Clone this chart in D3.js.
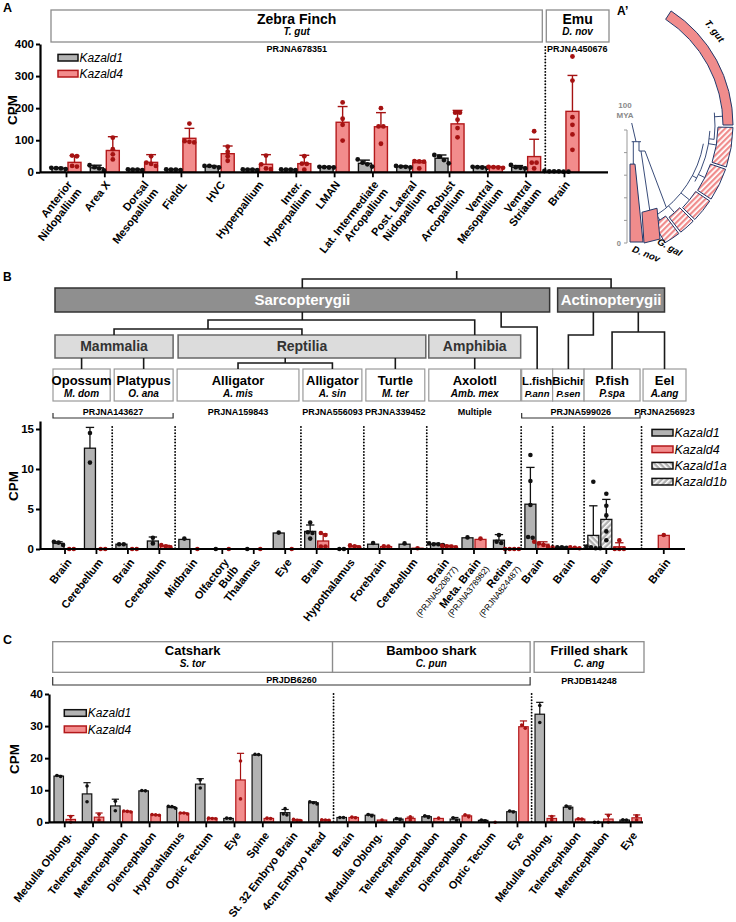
<!DOCTYPE html>
<html><head><meta charset="utf-8">
<script src="https://cdn.jsdelivr.net/npm/d3@7"></script>
<style>
body{margin:0;background:#fff;}
svg text{font-family:"Liberation Sans",Arial,Helvetica,sans-serif;}
</style></head><body>
<svg id="chart" width="736" height="922"></svg>
<script>
// ================= DATA =================
// ---- Panel A ----
const aLabels = ["Anterior\nNidopallium","Area X","Dorsal\nMesopallium","FieldL","HVC","Hyperpallium","Inter.\nHyperpallium","LMAN","Lat. Intermediate\nArcopallium","Post. Lateral\nNidopallium","Robust\nArcopallium","Ventral\nMesopallium","Ventral\nStriatum","Brain"];
const aSpeciesOf = [0,0,0,0,0,0,0,0,0,0,0,0,0,1];
const aSpeciesNames = ["Zebra Finch","Emu"];
const aSpeciesSci = ["T. gut","D. nov"];
const aProjects = ["PRJNA678351","PRJNA450676"];
const aYTicks = [0,100,200,300,400];
const aK1Mean = [12,14,8,8,18,8,8,16,28,17,44,15,16,3];
const aK1Sd   = [3,8,2,2,3,2,2,2,10,3,10,3,5,1];
const aK1Pts  = [[10,13,14,12],[22,16,6,12],[7,8,9,8],[7,8,9,8],[20,20,17,15],[7,8,9,8],[7,8,9,8],[15,16,17,15],[40,30,25,18],[17,18,15,20],[54,49,38,28],[15,17,16,14],[23,12,16,14],[2,3,3,4,3,2]];
const aK4Mean = [31,68,31,106,58,25,27,156,142,30,151,16,49,190];
const aK4Sd   = [21,43,24,31,24,30,26,49,44,6,42,2,54,112];
const aK4Pts  = [[52,50,20,18],[108,72,56,40],[50,30,26,20],[152,97,93,95],[80,64,50,36],[52,25,12,10],[50,27,26,8],[218,167,148,99],[200,143,143,89],[35,34,33,12],[186,186,164,138,109],[17,16,15,14],[128,30,30,12],[361,286,172,148,118,70]];
// ---- Panel A' ----
const apBarTips = ["D. nov","G. gal"];
const apBarValues = [190, 75];
// ---- Panel B ----
const bLabels = ["Brain","Cerebellum","Brain","Cerebellum","Midbrain","Olfactory\nBulb","Thalamus","Eye","Brain","Hypothalamus","Forebrain","Cerebellum","Brain\n(PRJNA520877)","Meta. Brain\n(PRJNA378982)","Retina\n(PRJNA824487)","Brain","Brain","Brain","Brain"];
const bSpeciesOf = [0,0,1,1,2,2,2,2,3,3,4,4,5,5,5,6,7,8,9];
const bSlots = [["k1","k4"],["k1","k4"],["k1","k4"],["k1","k4"],["k1","k4"],["k1","k4"],["k1","k4"],["k1","k4"],["k1","k4"],["k1","k4"],["k1","k4"],["k1","k4"],["k1","k4"],["k1","k4"],["k1","k4"],["k1","k4"],["k1","k4"],["k1a","k1b","k4"],[null,null,"k4"]];
const bSpeciesNames = ["Opossum","Platypus","Alligator","Alligator","Turtle","Axolotl","L.fish","Bichir","P.fish","Eel"];
const bSpeciesSci = ["M. dom","O. ana","A. mis","A. sin","M. ter","Amb. mex","P.ann","P.sen","P.spa","A.ang"];
const bClasses = ["Mammalia","Reptilia","Amphibia"];
const bSuperClasses = ["Sarcopterygii","Actinopterygii"];
const bProjNames = ["PRJNA143627","PRJNA159843","PRJNA556093","PRJNA339452","Multiple","PRJNA599026","PRJNA256923"];
const bProjFrom = [0,2,3,4,5,6,9];
const bProjTo   = [1,2,3,4,5,8,9];
const bYTicks = [0,5,10,15];
const bK1Mean = [0.7,12.6,0.6,1.0,1.2,0,0,2.0,2.2,0,0.6,0.6,0.6,1.4,1.1,5.6,0.2,null,null];
const bK1Sd   = [0.2,2.6,0,0.5,0,0,0,0,0.8,0,0,0,0.1,0,0.7,4.6,0.05,null,null];
const bK1Pts  = [[0.5,0.8,0.9],[14.5,10.8],[0.6,0.6],[1.4,0.7],[1.3],[0],[0],[2.05],[3.3,2.1,2.0,1.3],[0,0],[0.75],[0.7],[0.7,0.6,0.5,0.6],[1.45],[1.75,0.9,0.75],[11.75,8.5,5.5,1.5,1.4],[0.2,0.2,0.15],null,null];
const bK4Mean = [0,0,0,0.35,0,0,0,0,1.0,0.3,0.3,0.1,0.35,1.2,0,0.6,0.15,0.28,1.7];
const bK4Sd   = [0,0,0,0.1,0,0,0,0,0.9,0.1,0,0,0.1,0,0,0.3,0,0.5,0];
const bK4Pts  = [[0,0],[0,0],[0,0],[0.2,0.35,0.5],[0],[0],[0],[0],[2.0,1.75,0.3,0.3],[0.2,0.35,0.45],[0.35,0.3],[0.1],[0.4,0.3,0.2,0.35],[1.3],[0,0,0,0],[0.9,0.7,0.5,0.3,0.2],[0.15,0.2,0.1],[1.1,0,0,0],[1.75]];
const bK1aMean = [null,null,null,null,null,null,null,null,null,null,null,null,null,null,null,null,null,1.7,null];
const bK1aSd   = [null,null,null,null,null,null,null,null,null,null,null,null,null,null,null,null,null,3.7,null];
const bK1aPts  = [null,null,null,null,null,null,null,null,null,null,null,null,null,null,null,null,null,[8.4,0.3,0.2,0.1,0.1],null];
const bK1bMean = [null,null,null,null,null,null,null,null,null,null,null,null,null,null,null,null,null,3.7,null];
const bK1bSd   = [null,null,null,null,null,null,null,null,null,null,null,null,null,null,null,null,null,2.5,null];
const bK1bPts  = [null,null,null,null,null,null,null,null,null,null,null,null,null,null,null,null,null,[6.9,5.4,4.2,2.2,1.1],null];
// ---- Panel C ----
const cLabels = ["Medulla Oblong.","Telencephalon","Metencephalon","Diencephalon","Hypotahlamus","Optic Tectum","Eye","Spine","St. 32 Embryo Brain","4cm Embryo Head","Brain","Medulla Oblong.","Telencephalon","Metencephalon","Diencephalon","Optic Tectum","Eye","Medulla Oblong.","Telencephalon","Metencephalon","Eye"];
const cSpeciesOf = [0,0,0,0,0,0,0,0,0,0,1,1,1,1,1,1,1,2,2,2,2];
const cSpeciesNames = ["Catshark","Bamboo shark","Frilled shark"];
const cSpeciesSci = ["S. tor","C. pun","C. ang"];
const cProjNames = ["PRJDB6260","PRJDB14248"];
const cProjFrom = [0,2];
const cProjTo = [1,2];
const cYTicks = [0,10,20,30,40];
const cK1Mean = [14.4,8.85,5.1,9.8,4.6,11.9,1.2,21.0,3.0,6.1,1.5,2.2,1.0,1.75,1.0,0.6,3.3,33.7,4.7,0,0.7];
const cK1Sd   = [0.2,3.5,2.1,0.1,0.3,1.7,0.1,0.1,1.0,0.3,0,0.3,0.3,0.3,0.5,0.1,0.2,3.7,0.4,0,0.1];
const cK1Pts  = [[14.3,14.6],[11.3,6.4],[6.6,3.6],[9.8,9.9],[4.4,4.9,5.0],[13.2,10.7],[1.2,1.3],[21.1,21.2],[4.25,2.6,2.3],[6.4,5.7,6.1],[1.5,1.5],[2.4,2.0],[1.2,0.8],[2.0,1.5],[1.4,0.6],[0.7,0.5],[3.2,3.5],[36.4,31.1],[5.1,4.4],[0,0],[0.7,0.8]];
const cK4Mean = [0.9,1.6,3.35,2.3,2.8,1.2,13.2,1.2,0.7,0.7,1.5,0.7,1.2,1.2,2.0,0,29.8,1.2,1.0,1.0,1.4];
const cK4Sd   = [1.2,1.3,0.15,0.1,0.15,0.1,8.3,0.05,0.2,0.1,0.1,0,0.4,0,0.3,0,1.8,0.8,0.1,1.5,0.9];
const cK4Pts  = [[1.8,0.1],[2.5,0.7],[3.2,3.5,3.4],[2.2,2.3,2.4],[2.6,2.9,2.9],[1.1,1.3,1.2],[19.1,7.3],[1.2,1.3],[0.9,0.5,0.6],[0.7,0.8,0.6],[1.4,1.6],[0.7],[1.75,0.7],[1.3],[2.3,1.7],[0],[29.3,30.3],[0.7,1.8],[1.0,1.1],[2.1,0.1],[2.0,0.7]];
const seriesNames = {k1:"Kazald1",k4:"Kazald4",k1a:"Kazald1a",k1b:"Kazald1b"};

// ================= DRAWING =================
const svg = d3.select('#chart');
const defs = svg.append('defs');
function hatch(id,bg,fg,angle,size,stripe){
  const p=defs.append('pattern').attr('id',id).attr('patternUnits','userSpaceOnUse')
    .attr('width',size).attr('height',size).attr('patternTransform',`rotate(${angle})`);
  p.append('rect').attr('width',size).attr('height',size).attr('fill',bg);
  p.append('rect').attr('width',stripe).attr('height',size).attr('fill',fg);
}
hatch('h1a','#b0b0b0','#ffffff',-45,4,1.6);
hatch('h1b','#b0b0b0','#ffffff',45,4,1.6);
hatch('hpink','#ffffff','#f08c8c',45,4,2.2);

const ST = {
  k1:{fill:'#b3b3b3',stroke:'#111',dot:'#111'},
  k4:{fill:'#f28c8c',stroke:'#b3191b',dot:'#a51212'},
  k1a:{fill:'url(#h1a)',stroke:'#111',dot:'#111'},
  k1b:{fill:'url(#h1b)',stroke:'#111',dot:'#111'}
};

function buildGroups(labels,speciesOf,slots,series){
  return labels.map((lab,i)=>({label:lab,sp:speciesOf[i],
    bars:slots[i].map(s=>s?{s,m:series[s].mean[i],sd:series[s].sd[i],pts:series[s].pts[i]}:null)}));
}

function txt(x,y,str,o={}){
  return svg.append('text').attr('x',x).attr('y',y).text(str)
    .attr('text-anchor',o.anchor||'middle').attr('font-size',o.fs||10)
    .attr('font-weight',o.fw||'bold').attr('font-style',o.it?'italic':'normal')
    .attr('fill',o.fill||'#000');
}

function drawPanel(o){
  const {groups,y,x0,unit,gap,bw,axisX0,axisX1,r,sw} = o;
  const xs=d3.scaleLinear().domain([0,1]).range([x0,x0+unit]);
  const bwPx=xs(bw)-xs(0);
  let cum=0;
  groups.forEach(gr=>{
    gr.start=cum; cum+=gr.bars.length+gap;
    gr.bars.forEach((b,k)=>{ if(b){ b.left=xs(gr.start+k); b.cx=b.left+bwPx/2; } });
    const pres=gr.bars.filter(Boolean);
    gr.l=pres[0].left; gr.r=pres[pres.length-1].left+bwPx; gr.cx=(gr.l+gr.r)/2;
  });
  const y0=y(0);
  const g=svg.append('g');
  const all=groups.flatMap(gr=>gr.bars.filter(Boolean));
  g.selectAll('rect').data(all.filter(b=>b.m>0)).join('rect')
    .attr('x',b=>b.left).attr('y',b=>y(b.m)).attr('width',bwPx).attr('height',b=>y0-y(b.m))
    .attr('fill',b=>ST[b.s].fill).attr('stroke',b=>ST[b.s].stroke).attr('stroke-width',sw);
  all.filter(b=>b.sd>0).forEach(b=>{
    const yt=y(b.m+b.sd);
    g.append('line').attr('x1',b.cx).attr('x2',b.cx).attr('y1',y(b.m)).attr('y2',yt)
      .attr('stroke',ST[b.s].dot).attr('stroke-width',sw);
    g.append('line').attr('x1',b.cx-bwPx*0.38).attr('x2',b.cx+bwPx*0.38).attr('y1',yt).attr('y2',yt)
      .attr('stroke',ST[b.s].dot).attr('stroke-width',sw);
  });
  all.forEach(b=>{
    const py=b.pts.map(v=>y(v)).sort((a,c)=>a-c);
    const clusters=[]; let cur=[py[0]];
    for(let j=1;j<py.length;j++){ if(py[j]-cur[cur.length-1]<r*1.8) cur.push(py[j]); else {clusters.push(cur);cur=[py[j]];} }
    clusters.push(cur);
    clusters.forEach(c=>c.forEach((yy,k)=>{
      g.append('circle').attr('cx',b.cx+(k-(c.length-1)/2)*r*2).attr('cy',yy).attr('r',r).attr('fill',ST[b.s].dot);
    }));
  });
  g.append('line').attr('x1',axisX0).attr('x2',axisX1).attr('y1',y0).attr('y2',y0).attr('stroke','#000').attr('stroke-width',2.2);
  groups.forEach(gr=>g.append('line').attr('x1',gr.cx).attr('x2',gr.cx).attr('y1',y0).attr('y2',y0+5).attr('stroke','#000').attr('stroke-width',1.8));
  const ax=d3.axisLeft(y).tickValues(o.ticks).tickSize(4).tickPadding(2).tickSizeOuter(0);
  const ga=svg.append('g').attr('transform',`translate(${axisX0},0)`).call(ax)
    .attr('font-family','"Liberation Sans",Arial,sans-serif').attr('font-size',11.5).attr('font-weight','bold');
  ga.select('.domain').attr('stroke','#000').attr('stroke-width',2.2);
  ga.selectAll('.tick line').attr('stroke','#000').attr('stroke-width',2);
  ga.selectAll('.tick text').attr('fill','#000');
  groups.forEach(gr=>{
    const t=svg.append('text').attr('transform',`translate(${gr.cx+o.lx},${y0+o.ly}) rotate(-52)`)
      .attr('text-anchor','end').attr('font-size',o.lfs).attr('font-weight','bold').attr('font-style',o.lit?'italic':'normal');
    gr.label.split('\n').forEach((ln,i)=>{
      const sm=ln.startsWith('(');
      t.append('tspan').attr('x',0).attr('dy',i===0?'0.35em':(sm?11:o.lfs*1.1)).text(ln)
        .attr('font-size',sm?8.5:null).attr('font-weight',sm?'normal':null);
    });
  });
  svg.append('text').attr('transform',`translate(${o.cpmX},${o.cpmY}) rotate(-90)`).attr('text-anchor','middle')
    .attr('font-size',13.5).attr('font-weight','bold').text('CPM');
  return groups;
}

function speciesExtents(groups,n){
  const ext=d3.range(n).map(s=>{const gs=groups.filter(g=>g.sp===s);return {l:d3.min(gs,g=>g.l),r:d3.max(gs,g=>g.r)};});
  const seps=d3.range(n-1).map(s=>(ext[s].r+ext[s+1].l)/2);
  return {ext,seps};
}
function dotted(x,y1,y2){
  svg.append('line').attr('x1',x).attr('x2',x).attr('y1',y1).attr('y2',y2)
    .attr('stroke','#000').attr('stroke-width',1.9).attr('stroke-dasharray','0.01,3.1').attr('stroke-linecap','round');
}
function box(x0,x1,y0,y1,fill,stroke,sw){
  svg.append('rect').attr('x',x0).attr('y',y0).attr('width',x1-x0).attr('height',y1-y0)
    .attr('fill',fill).attr('stroke',stroke).attr('stroke-width',sw);
}
function legend(x,ys,keys,fs,w){
  keys.forEach((k,i)=>{
    svg.append('rect').attr('x',x).attr('y',ys[i]-3.3).attr('width',w).attr('height',6.6)
      .attr('fill',ST[k].fill).attr('stroke',ST[k].stroke).attr('stroke-width',1.5);
    txt(x+w+1.5,ys[i]+4.3,seriesNames[k],{anchor:'start',fs,fw:'normal',it:true});
  });
}
function polyline(pts,stroke,sw){
  svg.append('path').attr('d',d3.line()(pts)).attr('fill','none').attr('stroke',stroke).attr('stroke-width',sw);
}

// ---------- Panel A ----------
const aGroups=buildGroups(aLabels,aSpeciesOf,aLabels.map(()=>["k1","k4"]),
  {k1:{mean:aK1Mean,sd:aK1Sd,pts:aK1Pts},k4:{mean:aK4Mean,sd:aK4Sd,pts:aK4Pts}});
const aY=d3.scaleLinear().domain([0,400]).range([172.3,44]);
drawPanel({groups:aGroups,y:aY,x0:52,unit:16,gap:0.394,bw:0.8125,axisX0:40,axisX1:608,r:2.4,sw:1.4,
  ticks:aYTicks,lx:3,ly:10,lfs:11,lit:false,cpmX:16.5,cpmY:110});
{
  const {ext,seps}=speciesExtents(aGroups,2);
  dotted(seps[0],47,172);
  const bx=[[ext[0].l-1,seps[0]-3],[seps[0]+1,609]];
  bx.forEach((b,i)=>{
    box(b[0],b[1],10,42,'#fff','#8c8c8c',1.3);
    const c=(b[0]+b[1])/2;
    txt(c,23.5,aSpeciesNames[i],{fs:14});
    txt(c,35,aSpeciesSci[i],{fs:10,it:true});
  });
  txt((bx[0][0]+bx[0][1])/2,51.5,aProjects[0],{fs:9});
  txt(seps[0]+32,51.5,aProjects[1],{fs:9});
}
legend(58,[57.7,73.7],["k1","k4"],12,20);
txt(3,12,'A',{anchor:'start',fs:12.5});

// ---------- Panel A' ----------
(function(){
  const cx=597,cy=125, navy='#22386a';
  const g=svg.append('g').attr('transform',`translate(${cx},${cy})`);
  const rad=d=>d*Math.PI/180;
  const arc=d3.arc();
  const pol=(a,r)=>[r*Math.sin(rad(a)),-r*Math.cos(rad(a))];
  const tp=d3.path();
  const arcL=(r,a0,a1)=>{const p=pol(a0,r);tp.moveTo(p[0],p[1]);tp.arc(0,0,r,rad(a0)-Math.PI/2,rad(a1)-Math.PI/2,a1<a0);};
  const seg=(a,b)=>{tp.moveTo(a[0],a[1]);tp.lineTo(b[0],b[1]);};
  seg([34.7,-2],[39,16.7]); seg([34.7,16.7],[44,16.7]);
  seg([36.3,16.7],[36.3,40]); seg([42,16.7],[42,26]); seg([42,26],[48,26]);
  seg([44,26],[53,87]); seg([48,26],pol(140,108));
  arcL(108,147,100); arcL(113,120,93); arcL(118,97,84);
  [[146.5,108,114],[138.5,108,117],[129,108,119],[116,113,120],[99.5,113,121],[86,118,126],[118,108,113],[97,113,118]]
    .forEach(([a,r0,r1])=>seg(pol(a,r0),pol(a,r1)));
  g.append('path').attr('d',tp.toString()).attr('fill','none').attr('stroke',navy).attr('stroke-width',0.9);
  g.append('path').attr('d',arc({innerRadius:126,outerRadius:136,startAngle:rad(33),endAngle:rad(90)}))
    .attr('fill','#f08c8c').attr('stroke',navy).attr('stroke-width',1);
  [[91,108,121],[109,123,120],[124,134,119],[135,142,117],[143,150,114]].forEach(([a0,a1,ri])=>{
    g.append('path').attr('d',arc({innerRadius:ri,outerRadius:136,startAngle:rad(a0),endAngle:rad(a1)}))
      .attr('fill','url(#hpink)').attr('stroke',navy).attr('stroke-width',1);
  });
  const len=d3.scaleLinear().domain([0,200]).range([0,82]);
  const base=117;
  const dl=len(apBarValues[0]);
  g.append('path').attr('d',d3.line()([[33,base],[33,base-dl],[38,base-dl],[46,base]])+'Z')
    .attr('fill','#f08c8c').attr('stroke',navy).attr('stroke-width',1);
  const gl=len(apBarValues[1]);
  g.append('path').attr('d',d3.line()([[47,base+1],[45,base+1-gl],[60,base-3-gl],[63,base-3]])+'Z')
    .attr('fill','#f08c8c').attr('stroke',navy).attr('stroke-width',1);
  const ms=d3.scaleLinear().domain([0,100]).range([243,130]);
  const sa=svg.append('g');
  sa.append('line').attr('x1',627).attr('x2',627).attr('y1',ms(0)).attr('y2',ms(100)).attr('stroke','#999').attr('stroke-width',1);
  [0,20,40,60,80,100].forEach(v=>sa.append('line').attr('x1',624).attr('x2',627).attr('y1',ms(v)).attr('y2',ms(v)).attr('stroke','#999'));
  txt(621,ms(0)+3,'0',{fs:7.5,fill:'#8a8a8a',anchor:'end'});
  txt(625,108,'100',{fs:8,fill:'#8a8a8a'});
  txt(625,118,'MYA',{fs:8,fill:'#8a8a8a'});
  svg.append('text').attr('transform','translate(712,33) rotate(52)').attr('text-anchor','middle')
    .attr('font-size',9.5).attr('font-weight','bold').attr('font-style','italic').text('T. gut');
  svg.append('text').attr('transform','translate(668,250) rotate(30)').attr('text-anchor','middle')
    .attr('font-size',9.5).attr('font-weight','bold').attr('font-style','italic').text(apBarTips[1]);
  svg.append('text').attr('transform','translate(645,257) rotate(22)').attr('text-anchor','middle')
    .attr('font-size',9.5).attr('font-weight','bold').attr('font-style','italic').text(apBarTips[0]);
  txt(617,15,'A’',{anchor:'start',fs:12});
})();

// ---------- Panel B ----------
const bSeries={k1:{mean:bK1Mean,sd:bK1Sd,pts:bK1Pts},k4:{mean:bK4Mean,sd:bK4Sd,pts:bK4Pts},
  k1a:{mean:bK1aMean,sd:bK1aSd,pts:bK1aPts},k1b:{mean:bK1bMean,sd:bK1bSd,pts:bK1bPts}};
const bGroups=buildGroups(bLabels,bSpeciesOf,bSlots,bSeries);
const bY=d3.scaleLinear().domain([0,16]).range([549,421]);
drawPanel({groups:bGroups,y:bY,x0:53,unit:13,gap:0.42,bw:0.846,axisX0:40,axisX1:685,r:2.3,sw:1.3,
  ticks:bYTicks,lx:4,ly:11,lfs:11,lit:false,cpmX:18,cpmY:486});
{
  const {ext,seps}=speciesExtents(bGroups,10);
  seps.forEach(s=>dotted(s,427,549));
  const half=[2,2,2,2,2,0.5,0,0,1.5];
  const bb=ext.map((e,s)=>{
    const l=s===0?e.l:seps[s-1]+half[s-1];
    const r=s===9?686:seps[s]-half[s];
    return {l,r,c:(l+r)/2};
  });
  const L='#1a1a1a', LW=1.6;
  bb.forEach((b,i)=>{
    box(b.l,b.r,369,401,'#fff','#9a9a9a',1.2);
    const narrow=(b.r-b.l)<40;
    txt(b.c,384.5,bSpeciesNames[i],{fs:narrow?11.3:13});
    txt(b.c,397,bSpeciesSci[i],{fs:narrow?9.5:10,it:true});
  });
  const mam={l:bb[0].l+2,r:bb[1].r}, rep={l:bb[2].l+1,r:bb[4].r+1}, amp={l:bb[5].l,r:bb[5].r};
  [mam,rep,amp].forEach((b,i)=>{ b.c=(b.l+b.r)/2; box(b.l,b.r,335,358,'#dcdcdc','#666',1.5); txt(b.c,351,bClasses[i],{fs:14,fill:'#333'}); });
  const sar={l:mam.l,r:bb[6].r-3}, act={l:bb[7].l+5,r:bb[9].c};
  [sar,act].forEach((b,i)=>{ b.c=(b.l+b.r)/2; box(b.l,b.r,288,312,'#8f8f8f','#333',1.5); txt(b.c,304.5,bSuperClasses[i],{fs:15,fill:'#fff'}); });
  const rootX=(sar.c+act.c)/2;
  polyline([[rootX,271],[rootX,279]],L,LW);
  polyline([[sar.c,288],[sar.c,279],[act.c,279],[act.c,288]],L,LW);
  const mr=(mam.c+rep.c)/2;
  polyline([[sar.c,312],[sar.c,320]],L,LW);
  polyline([[mr,329],[mr,320],[amp.c,320],[amp.c,335]],L,LW);
  polyline([[mam.c,335],[mam.c,329],[rep.c,329],[rep.c,335]],L,LW);
  polyline([[bb[6].c-36,312],[bb[6].c-36,327],[bb[6].c,327],[bb[6].c,369]],L,LW);
  polyline([[bb[7].c+25,312],[bb[7].c+25,335],[bb[7].c,335],[bb[7].c,369]],L,LW);
  const pe=(bb[8].c+bb[9].c)/2;
  polyline([[pe,312],[pe,332]],L,LW);
  polyline([[bb[8].c,369],[bb[8].c,332],[bb[9].c,332],[bb[9].c,369]],L,LW);
  polyline([[bb[0].c,358],[bb[0].c,369]],L,LW);
  polyline([[bb[1].c,358],[bb[1].c,369]],L,LW);
  const ra=(bb[2].c+bb[3].c)/2;
  polyline([[ra,358],[ra,363]],L,LW);
  polyline([[bb[2].c,369],[bb[2].c,363],[bb[3].c,363],[bb[3].c,369]],L,LW);
  polyline([[bb[4].c,358],[bb[4].c,369]],L,LW);
  polyline([[bb[5].c,358],[bb[5].c,369]],L,LW);
  bProjNames.forEach((p,i)=>{
    const l=bb[bProjFrom[i]].l, r=bb[bProjTo[i]].r;
    txt((l+r)/2,415,p,{fs:9});
    if(bProjFrom[i]!==bProjTo[i]) polyline([[l,413],[l,418],[r,418],[r,413]],'#333',1.2);
  });
}
legend(652,[432.7,449.3,465.7,481.7],["k1","k4","k1a","k1b"],12.5,21);
txt(3,281,'B',{anchor:'start',fs:12});

// ---------- Panel C ----------
const cGroups=buildGroups(cLabels,cSpeciesOf,cLabels.map(()=>["k1","k4"]),
  {k1:{mean:cK1Mean,sd:cK1Sd,pts:cK1Pts},k4:{mean:cK4Mean,sd:cK4Sd,pts:cK4Pts}});
const cY=d3.scaleLinear().domain([0,40]).range([822.3,694]);
drawPanel({groups:cGroups,y:cY,x0:54,unit:12,gap:0.358,bw:0.79,axisX0:49,axisX1:643,r:1.8,sw:1.2,
  ticks:cYTicks,lx:4,ly:11,lfs:11,lit:false,cpmX:18.5,cpmY:759});
{
  const {ext,seps}=speciesExtents(cGroups,3);
  seps.forEach(s=>dotted(s,694,822));
  const cb=[[ext[0].l-1.3,seps[0]-1],[seps[0]-1,seps[1]-1.5],[seps[1]+2.5,644]];
  cb.forEach((b,i)=>{
    box(b[0],b[1],641.7,672.3,'#fff','#8c8c8c',1.3);
    const c=(b[0]+b[1])/2;
    txt(c,655,cSpeciesNames[i],{fs:13});
    txt(c,667,cSpeciesSci[i],{fs:10,it:true});
  });
  cProjNames.forEach((p,i)=>{
    const l=cb[cProjFrom[i]][0], r=cb[cProjTo[i]][1];
    if(cProjFrom[i]!==cProjTo[i]){ txt((l+r)/2,682.5,p,{fs:9}); polyline([[l,677],[l,685],[r,685],[r,677]],'#333',1.2); }
    else txt((l+r)/2,684,p,{fs:9});
  });
}
legend(64.3,[713,729.3],["k1","k4"],12,22);
txt(3,644,'C',{anchor:'start',fs:12.5});
</script></body></html>
